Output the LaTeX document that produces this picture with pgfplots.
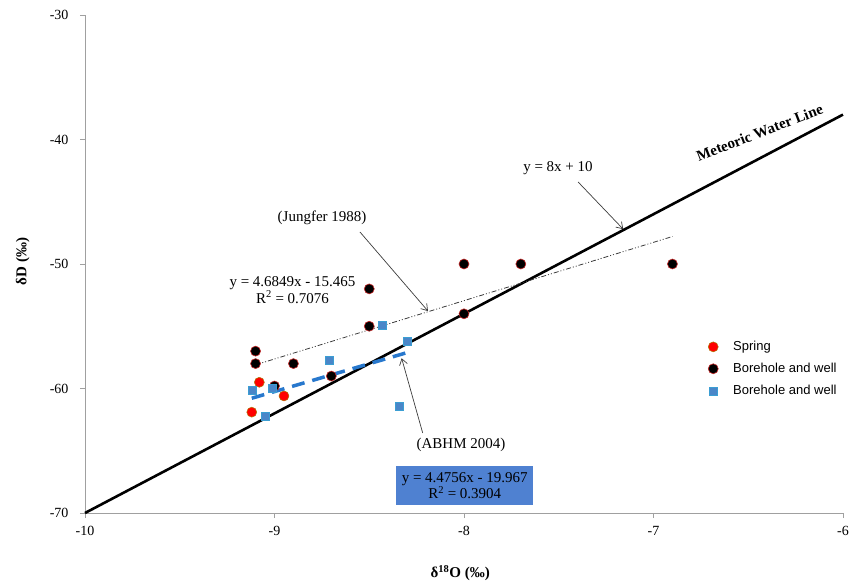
\documentclass[border=0pt]{standalone}
\usepackage{pgfplots}
\pgfplotsset{compat=1.18}
\usepackage{fontspec}
\setmainfont{Liberation Serif}
\newfontfamily\arial{Liberation Sans}
\usetikzlibrary{arrows.meta}
\definecolor{sprred}{RGB}{255,0,0}
\definecolor{bluesq}{RGB}{74,134,200}
\definecolor{bluedash}{RGB}{40,120,205}
\definecolor{boxblue}{RGB}{79,129,209}
\definecolor{axgray}{RGB}{160,160,160}
\definecolor{darkred}{RGB}{200,40,40}
\definecolor{arrgray}{RGB}{60,60,60}
\begin{document}
\begin{tikzpicture}
\useasboundingbox (0pt,0pt) rectangle (857pt,584pt);
\begin{axis}[
  at={(85pt,71pt)}, anchor=south west,
  width=758pt, height=498pt, scale only axis,
  xmin=-10, xmax=-6, ymin=-70, ymax=-30,
  axis x line*=bottom, axis y line*=left,
  axis line style={axgray, line width=0.8pt},
  tick style={axgray, line width=0.8pt},
  tick align=outside, major tick length=5pt,
  xtick={-10,-9,-8,-7,-6}, xticklabels={-10,-9,-8,-7,-6},
  ytick={-70,-60,-50,-40,-30}, yticklabels={-70,-60,-50,-40,-30},
  tick label style={font=\fontsize{14}{16}\selectfont},
  xticklabel style={yshift=-5pt},
  yticklabel style={xshift=-8pt},
  xlabel={\bfseries δ\textsuperscript{18}O (‰)},
  ylabel={\bfseries δD (‰)},
  label style={font=\fontsize{15}{17}\selectfont},
  xlabel style={at={(rel axis cs:0.495,-0.12)}, anchor=center},
  ylabel style={at={(rel axis cs:-0.082,0.505)}, anchor=center, rotate=0},
  clip=false,
  legend style={at={(rel axis cs:0.818,0.353)}, anchor=north west, draw=none, fill=none,
    font=\arial\fontsize{13}{15}\selectfont, row sep=7pt,
    /tikz/every odd column/.append style={column sep=13pt}},
  legend cell align=left,
]
% Meteoric water line
\addplot[black, line width=2.6pt, forget plot] coordinates {(-10,-70) (-6,-38)};
% Jungfer trend
\addplot[arrgray, line width=0.8pt, dash pattern=on 5pt off 2pt on 1pt off 2pt on 1pt off 2pt, forget plot]
  coordinates {(-9.1,-58.098) (-6.9,-47.791)};
% ABHM trend
\addplot[bluedash, line width=3.5pt, dash pattern=on 13pt off 8pt, forget plot]
  coordinates {(-9.12,-60.784) (-8.30,-57.114)};

\addplot[only marks, mark=*, mark size=5pt, mark options={fill=sprred, draw=olive!70!red, line width=0.5pt}]
  coordinates {(-9.08,-59.5) (-8.95,-60.6) (-9.12,-61.9)};
\addlegendentry{Spring}
\addplot[only marks, mark=*, mark size=5pt, mark options={fill=black, draw=darkred, line width=0.6pt}]
  coordinates {(-9.1,-57) (-9.1,-58) (-8.9,-58) (-8.7,-59) (-8.5,-52) (-8.5,-55)
               (-8,-50) (-8,-54) (-7.7,-50) (-6.9,-50) (-9.0,-59.8)};
\addlegendentry{Borehole and well}
\addplot[only marks, mark=square*, mark size=4pt, mark options={fill=bluesq, draw=bluesq!80!cyan, line width=0.4pt}]
  coordinates {(-9.12,-60.1) (-9.05,-62.2) (-9.01,-60.0) (-8.71,-57.7) (-8.43,-54.9)
               (-8.30,-56.2) (-8.34,-61.4)};
\addlegendentry{Borehole and well}

% annotations
\node[font=\bfseries\fontsize{15}{17}\selectfont, rotate=21] at (axis cs:-6.44,-39.45) {Meteoric Water Line};
\node[font=\fontsize{15}{17}\selectfont] at (axis cs:-7.504,-42.3) {y = 8x + 10};
\draw[arrgray, line width=0.7pt, -{Straight Barb[length=6pt,width=8pt]}] (axis cs:-7.398,-43.41) -- (axis cs:-7.16,-47.2);
\node[font=\fontsize{15}{17}\selectfont] at (axis cs:-8.749,-46.31) {(Jungfer 1988)};
\draw[arrgray, line width=0.7pt, -{Straight Barb[length=6pt,width=8pt]}] (axis cs:-8.549,-47.43) -- (axis cs:-8.19,-53.78);
\node[font=\fontsize{15}{16.5}\selectfont, align=center] at (axis cs:-8.905,-52.09) {y = 4.6849x - 15.465\\R\textsuperscript{2} = 0.7076};
\node[font=\fontsize{15}{17}\selectfont] at (axis cs:-8.016,-64.54) {(ABHM 2004)};
\draw[arrgray, line width=0.7pt, -{Straight Barb[length=6pt,width=8pt]}] (axis cs:-8.218,-63.57) -- (axis cs:-8.329,-57.57);
\node[fill=boxblue, minimum width=137pt, minimum height=39pt, inner sep=0pt, align=center,
      font=\fontsize{15}{16.5}\selectfont] at (axis cs:-7.996,-67.82) {y = 4.4756x - 19.967\\R\textsuperscript{2} = 0.3904};
\end{axis}
\end{tikzpicture}
\end{document}
